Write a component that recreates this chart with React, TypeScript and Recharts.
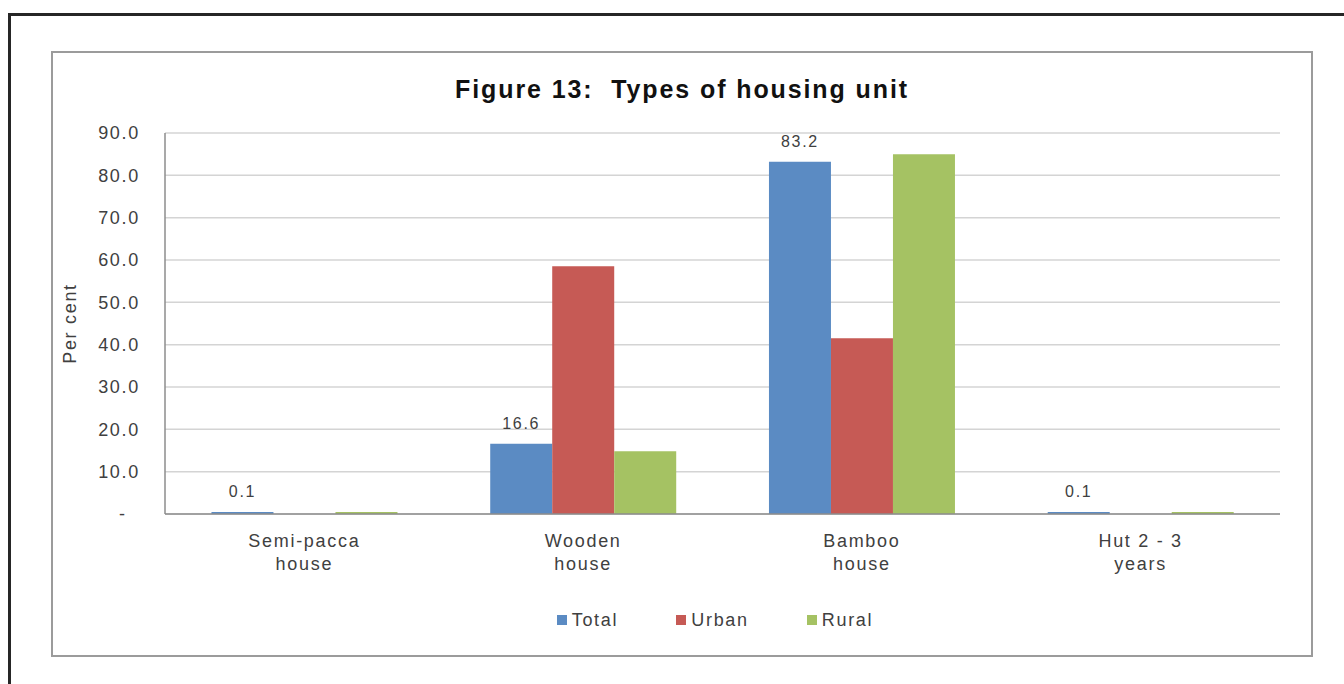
import { BarChart, Bar, XAxis, YAxis, CartesianGrid, Legend, LabelList, Label } from 'recharts';

const categories = ['Semi-pacca\nhouse', 'Wooden\nhouse', 'Bamboo\nhouse', 'Hut 2 - 3\nyears'];
const seriesNames = ['Total', 'Urban', 'Rural'];
const total = [0.1, 16.6, 83.2, 0.1];
const urban = [0, 58.5, 41.5, 0];
const rural = [0.1, 14.8, 85.0, 0.1];
const yTicks = [0, 10, 20, 30, 40, 50, 60, 70, 80, 90];

const data = categories.map((category, i) => ({
  category,
  Total: total[i],
  Urban: urban[i],
  Rural: rural[i],
}));

const FONT = '"Liberation Sans", Arial, sans-serif';
const TEXT = '#404040';

// Excel keeps tiny non-zero bars visible as a thin line
const thinBar = (value: any) => (Number(value) > 0 ? 2 : 0);

const CategoryTick = (props: any) => {
  const { x, y, payload } = props;
  const lines = String(payload.value).split('\n');
  return (
    <text x={x} y={y} textAnchor="middle" fill={TEXT} fontSize={18} fontFamily={FONT} style={{ letterSpacing: '1.7px' }}>
      {lines.map((line, i) => (
        <tspan key={i} x={x} dy={i === 0 ? 33 : 23}>
          {line}
        </tspan>
      ))}
    </text>
  );
};

const renderLegend = (props: any) => {
  const items = [...(props.payload || [])].sort(
    (a: any, b: any) => seriesNames.indexOf(a.value) - seriesNames.indexOf(b.value)
  );
  return (
    <div style={{ display: 'flex', justifyContent: 'center', gap: 58, lineHeight: '22px' }}>
      {items.map((entry: any) => (
        <div key={entry.value} style={{ display: 'flex', alignItems: 'center' }}>
          <span style={{ width: 10, height: 10, background: entry.color, display: 'inline-block', marginRight: 5 }} />
          <span style={{ fontSize: 18, color: TEXT, fontFamily: FONT, letterSpacing: '1.7px' }}>{entry.value}</span>
        </div>
      ))}
    </div>
  );
};

export default function App() {
  return (
    <div
      style={{
        position: 'absolute',
        left: 0,
        top: 0,
        width: 1344,
        height: 684,
        overflow: 'hidden',
        background: '#fff',
        fontFamily: FONT,
      }}
    >
      {/* outer page frame */}
      <div
        style={{
          position: 'absolute',
          left: 8,
          top: 13,
          width: 1400,
          height: 700,
          borderTop: '3px solid #262626',
          borderLeft: '3px solid #262626',
        }}
      />
      {/* chart box */}
      <div
        style={{
          position: 'absolute',
          left: 51,
          top: 51,
          width: 1258,
          height: 602,
          border: '2px solid #9b9b9b',
        }}
      />
      <div
        style={{
          position: 'absolute',
          left: 51,
          top: 74,
          width: 1262,
          textAlign: 'center',
          fontSize: 25,
          lineHeight: '30px',
          fontWeight: 'bold',
          color: '#111',
          letterSpacing: '1.9px',
        }}
      >
        Figure 13:{'\u00A0 '}Types of housing unit
      </div>
      <div style={{ position: 'absolute', left: 0, top: 0 }}>
        <BarChart
          width={1344}
          height={684}
          data={data}
          margin={{ top: 133, right: 64, left: 60, bottom: 110 }}
          barCategoryGap="16.67%"
          barGap={0}
        >
          <CartesianGrid vertical={false} stroke="#d4d4d4" strokeWidth={1.5} />
          <XAxis
            dataKey="category"
            height={60}
            interval={0}
            tickLine={false}
            tickSize={0}
            tickMargin={0}
            axisLine={{ stroke: '#8c8c8c', strokeWidth: 1.5 }}
            tick={<CategoryTick />}
          />
          <YAxis
            width={105}
            domain={[0, 90]}
            ticks={yTicks}
            interval={0}
            tickLine={false}
            tickSize={0}
            tickMargin={25}
            axisLine={{ stroke: '#8c8c8c', strokeWidth: 1.5 }}
            tick={{ fill: TEXT, fontSize: 18, fontFamily: FONT, style: { letterSpacing: '1.7px' } }}
            tickFormatter={(v: number) => (v === 0 ? '-\u00A0\u00A0' : v.toFixed(1))}
          >
            <Label
              value="Per cent"
              angle={-90}
              position="insideLeft"
              offset={10}
              fill={TEXT}
              fontSize={18}
              fontFamily={FONT}
              style={{ textAnchor: 'middle', letterSpacing: '1.7px' }}
            />
          </YAxis>
          <Legend
            layout="horizontal"
            verticalAlign="middle"
            align="center"
            content={renderLegend}
            wrapperStyle={{ top: 609, left: 150, width: 1130 }}
          />
          <Bar dataKey="Total" fill="#5b8bc3" minPointSize={thinBar} isAnimationActive={false}>
            <LabelList
              dataKey="Total"
              position="top"
              offset={15}
              fill={TEXT}
              fontSize={16}
              fontFamily={FONT}
              style={{ letterSpacing: '1.7px' }}
              formatter={(v: any) => Number(v).toFixed(1)}
            />
          </Bar>
          <Bar dataKey="Urban" fill="#c65a55" minPointSize={thinBar} isAnimationActive={false} />
          <Bar dataKey="Rural" fill="#a5c263" minPointSize={thinBar} isAnimationActive={false} />
        </BarChart>
      </div>
    </div>
  );
}
